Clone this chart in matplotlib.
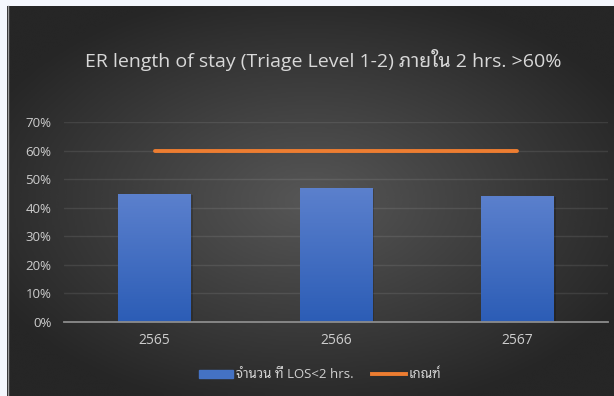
import numpy as np
import matplotlib
matplotlib.use("Agg")
import matplotlib.pyplot as plt
from matplotlib.lines import Line2D
from matplotlib.patches import Rectangle
import matplotlib.colors as mcolors

# data
years = ["2565", "2566", "2567"]
los_pct = [44.7, 46.8, 44.2]
target_pct = [60, 60, 60]
y_ticks = [0, 10, 20, 30, 40, 50, 60, 70]

title = "ER length of stay (Triage Level 1-2) ภายใน 2 hrs. >60%"
bar_label = "จำนวน ที่ LOS<2 hrs."
line_label = "เกณฑ์"

fonts = ["Open Sans", "Noto Sans Thai Looped", "DejaVu Sans"]
plt.rcParams["font.family"] = fonts

W, H = 614, 396
fig = plt.figure(figsize=(W / 100, H / 100), dpi=100)
fig.patch.set_facecolor("#f4f7fd")

# dark radial-gradient panel
bg = fig.add_axes([7 / W, 0, 1 - 7 / W, 1 - 6 / H])
bg.set_axis_off()
yy, xx = np.mgrid[-1:1:200j, -1:1:300j]
r = np.sqrt((xx * 0.95) ** 2 + (yy * 1.0) ** 2)
shade = np.clip(0.34 - 0.17 * r, 0.15, 0.34)
bg.imshow(shade, cmap="gray", vmin=0, vmax=1, aspect="auto",
          extent=[0, 1, 0, 1], interpolation="bicubic")
bg.set_xlim(0, 1)
bg.set_ylim(0, 1)
fig.add_artist(Line2D([7.5 / W, 7.5 / W], [0, 1 - 6 / H], color="#9a9a9a",
                      lw=1.0, transform=fig.transFigure))

ax = fig.add_axes([64 / W, 74 / H, 544 / W, 200 / H])
ax.patch.set_alpha(0)

x = np.arange(len(years))
bars = ax.bar(x, los_pct, width=0.4, color="#4472c4", zorder=3)

# vertical gradient on each bar
grad = np.linspace(0, 1, 100).reshape(-1, 1)
cmap = mcolors.LinearSegmentedColormap.from_list("barfill", ["#2c5db6", "#5b80cd"])
for b in bars:
    bx, by = b.get_x(), b.get_y()
    bw, bh = b.get_width(), b.get_height()
    ax.add_patch(Rectangle((bx + 0.012, by), bw, bh - 0.3, color="black",
                           alpha=0.18, zorder=2, lw=0))
    im = ax.imshow(grad, cmap=cmap, aspect="auto", origin="lower",
                   extent=[bx, bx + bw, by, by + bh], zorder=3)
    im.set_clip_path(b)

ax.plot(x, target_pct, color="#ed7d31", lw=2.8, solid_capstyle="round", zorder=4)

ax.set_xlim(-0.5, len(years) - 0.5)
ax.set_ylim(0, 70)
ax.set_yticks(y_ticks)
ax.set_yticklabels([f"{t}%" for t in y_ticks])
ax.set_xticks(x)
ax.set_xticklabels(years)
ax.grid(axis="y", color="#ffffff", alpha=0.09, lw=1.0, zorder=0)
ax.set_axisbelow(True)
for s in ["top", "right", "left"]:
    ax.spines[s].set_visible(False)
ax.spines["bottom"].set_color("#8c8c8c")
ax.spines["bottom"].set_linewidth(1.3)
ax.spines["bottom"].set_zorder(5)
ax.tick_params(length=0, colors="#cdcdcd", labelsize=9.5)
ax.tick_params(axis="x", pad=8, labelsize=10)
ax.tick_params(axis="y", pad=9)

fig.text(323 / W, 1 - 60 / H, title, ha="center", va="center",
         color="#d8d8d8", fontsize=14, family=fonts)

handles = [Rectangle((0, 0), 1, 1, color="#4472c4"),
           Line2D([0], [0], color="#ed7d31", lw=2.8)]
leg = fig.legend(handles, [bar_label, line_label], loc="center",
                 bbox_to_anchor=(320 / W, 1 - 375 / H), ncol=2, frameon=False,
                 fontsize=9.5, labelcolor="#d0d0d0", handlelength=2.6,
                 handleheight=0.5, handletextpad=0.2, columnspacing=1.4)

fig.savefig("out.png", dpi=100, facecolor=fig.get_facecolor())
